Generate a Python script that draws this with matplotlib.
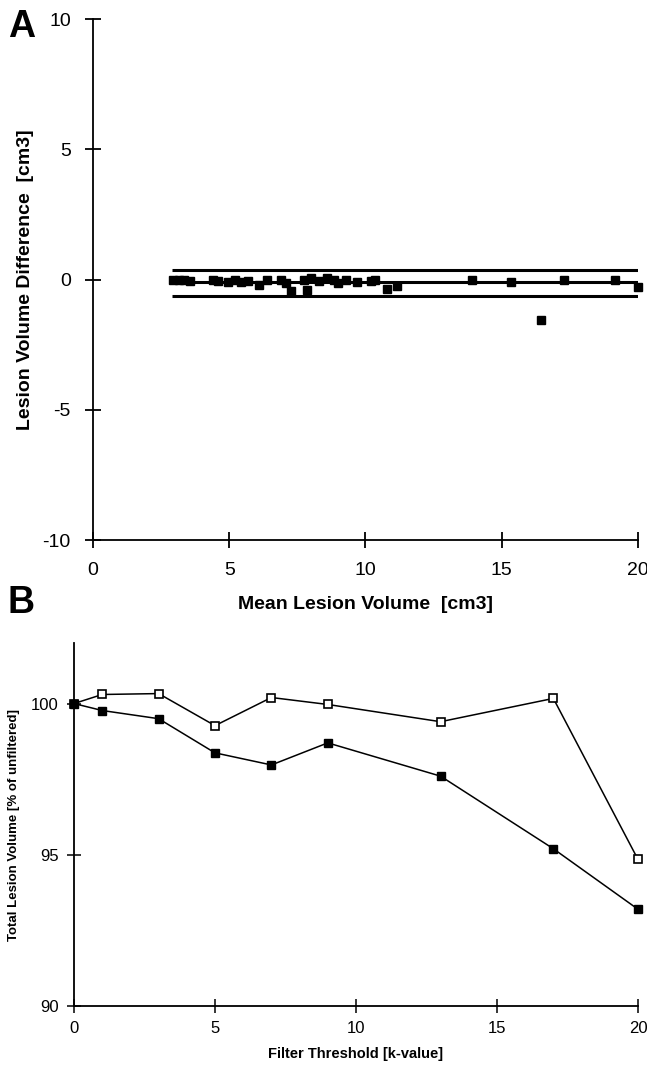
import matplotlib
matplotlib.use("Agg")
import matplotlib.pyplot as plt

plt.rcParams['font.family'] = ['Liberation Sans', 'DejaVu Sans']
plt.rcParams['axes.unicode_minus'] = False

# Panel A: Bland-Altman style data
mean_vol = [2.95, 3.15, 3.35, 3.55, 4.4, 4.6, 4.95, 5.2, 5.45, 5.7, 6.1, 6.4,
            6.9, 7.1, 7.25, 7.75, 7.85, 8.0, 8.3, 8.6, 8.85, 9.0, 9.3, 9.7,
            10.2, 10.35, 10.8, 11.15, 13.9, 15.35, 16.45, 17.3, 19.15, 20.0]
vol_diff = [0.0, 0.0, 0.0, -0.05, 0.0, -0.05, -0.1, 0.0, -0.1, -0.05, -0.2, 0.0,
            0.0, -0.15, -0.45, 0.0, -0.4, 0.05, -0.05, 0.05, 0.0, -0.15, 0.0, -0.1,
            -0.05, 0.0, -0.38, -0.25, 0.0, -0.08, -1.54, 0.0, 0.0, -0.27]
ref_levels = [0.38, -0.1, -0.62]   # upper limit, mean, lower limit
ref_span = [2.9, 20.1]

# Panel B: filter threshold
k_values = [0, 1, 3, 5, 7, 9, 13, 17, 20]
open_series = [100.0, 100.3, 100.33, 99.27, 100.2, 99.97, 99.4, 100.17, 94.85]
filled_series = [100.0, 99.77, 99.5, 98.37, 97.97, 98.7, 97.6, 95.2, 93.2]

narrow = ['Liberation Sans Narrow', 'Liberation Sans', 'DejaVu Sans']

fig = plt.figure(figsize=(6.47, 10.70), dpi=100)

# ---- Panel A
ax = fig.add_axes([0.1437, 0.4953, 0.8423, 0.4869])
ax.hlines(ref_levels, ref_span[0], ref_span[1], colors='black', linewidth=2.2)
ax.plot(mean_vol, vol_diff, 's', color='black', markersize=6, clip_on=False)
ax.set_xlim(0, 20)
ax.set_ylim(-10, 10)
ax.set_xticks([0, 5, 10, 15, 20])
ax.set_yticks([-10, -5, 0, 5, 10])
for s in ['top', 'right']:
    ax.spines[s].set_visible(False)
for s in ['left', 'bottom']:
    ax.spines[s].set_linewidth(1.3)
ax.tick_params(direction='inout', length=12, width=1.3, labelsize=14, pad=10)
ax.set_xlabel('Mean Lesion Volume  [cm3]', fontsize=14, fontweight='bold', labelpad=12)
ax.set_ylabel('Lesion Volume Difference  [cm3]', fontsize=14, fontweight='bold', labelpad=6)
fig.text(0.012, 0.965, 'A', fontsize=27, fontweight='bold')

# ---- Panel B
bx = fig.add_axes([0.1144, 0.0598, 0.8716, 0.3392])
bx.plot(k_values, open_series, '-s', color='black', linewidth=1.1,
        markersize=5.5, markerfacecolor='white', markeredgewidth=1.2, clip_on=False, zorder=3)
bx.plot(k_values, filled_series, '-s', color='black', linewidth=1.1,
        markersize=5.5, clip_on=False, zorder=3)
bx.set_xlim(0, 20)
bx.set_ylim(90, 102)
bx.set_xticks([0, 5, 10, 15, 20])
bx.set_yticks([90, 95, 100])
for s in ['top', 'right']:
    bx.spines[s].set_visible(False)
for s in ['left', 'bottom']:
    bx.spines[s].set_linewidth(1.3)
bx.tick_params(direction='inout', length=10, width=1.1, labelsize=12, pad=6)
for lab in bx.get_xticklabels() + bx.get_yticklabels():
    lab.set_family(narrow)
bx.set_xlabel('Filter Threshold [k-value]', fontsize=10.5, fontweight='bold',
              labelpad=8, family=narrow)
bx.set_ylabel('Total Lesion Volume [% of unfiltered]', fontsize=9.5, fontweight='bold',
              labelpad=8, family=narrow)
fig.text(0.012, 0.427, 'B', fontsize=27, fontweight='bold')

fig.savefig('out.png', dpi=100)
